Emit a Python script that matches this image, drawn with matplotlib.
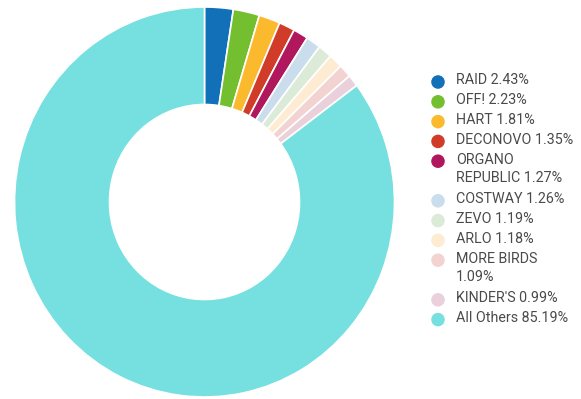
import matplotlib.pyplot as plt

legend_text = ["RAID 2.43%", "OFF! 2.23%", "HART 1.81%", "DECONOVO 1.35%",
               "ORGANO\nREPUBLIC 1.27%", "COSTWAY 1.26%", "ZEVO 1.19%", "ARLO 1.18%",
               "MORE BIRDS\n1.09%", "KINDER'S 0.99%", "All Others 85.19%"]
shares = [2.43, 2.23, 1.81, 1.35, 1.27, 1.26, 1.19, 1.18, 1.09, 0.99, 85.19]
colors = ["#1170b8", "#73bf2f", "#fbb92d", "#d03c27", "#b0175c", "#c9dded",
          "#dcebd8", "#fdecd1", "#f3d3d2", "#ead0da", "#76e0e0"]

W, H = 581, 399
fig = plt.figure(figsize=(W / 100, H / 100), dpi=100)

# donut is a bit taller than wide in the reference
cx, cy, rx, ry = 204.5, 202, 190, 195
ax = fig.add_axes([(cx - rx) / W, (H - cy - ry) / H, 2 * rx / W, 2 * ry / H])
ax.pie(shares, colors=colors, startangle=90, counterclock=False,
       wedgeprops=dict(width=0.5, edgecolor="white", linewidth=1.2))
ax.set_aspect("auto")
ax.set_xlim(-1, 1)
ax.set_ylim(-1, 1)
ax.axis("off")

# legend drawn by hand
lax = fig.add_axes([0, 0, 1, 1])
lax.set_xlim(0, W)
lax.set_ylim(H, 0)
lax.axis("off")
y = 82
line_h = 19.8
for txt, c in zip(legend_text, colors):
    lax.scatter([438], [y], s=95, color=c, edgecolors="none")
    lax.text(456, y - line_h / 2 + 1.3, txt, fontsize=10.3, family="Roboto",
             color="#4a4a4a", va="top", ha="left", linespacing=1.38)
    y += line_h * (txt.count("\n") + 1)

fig.savefig("out.png", dpi=100)
